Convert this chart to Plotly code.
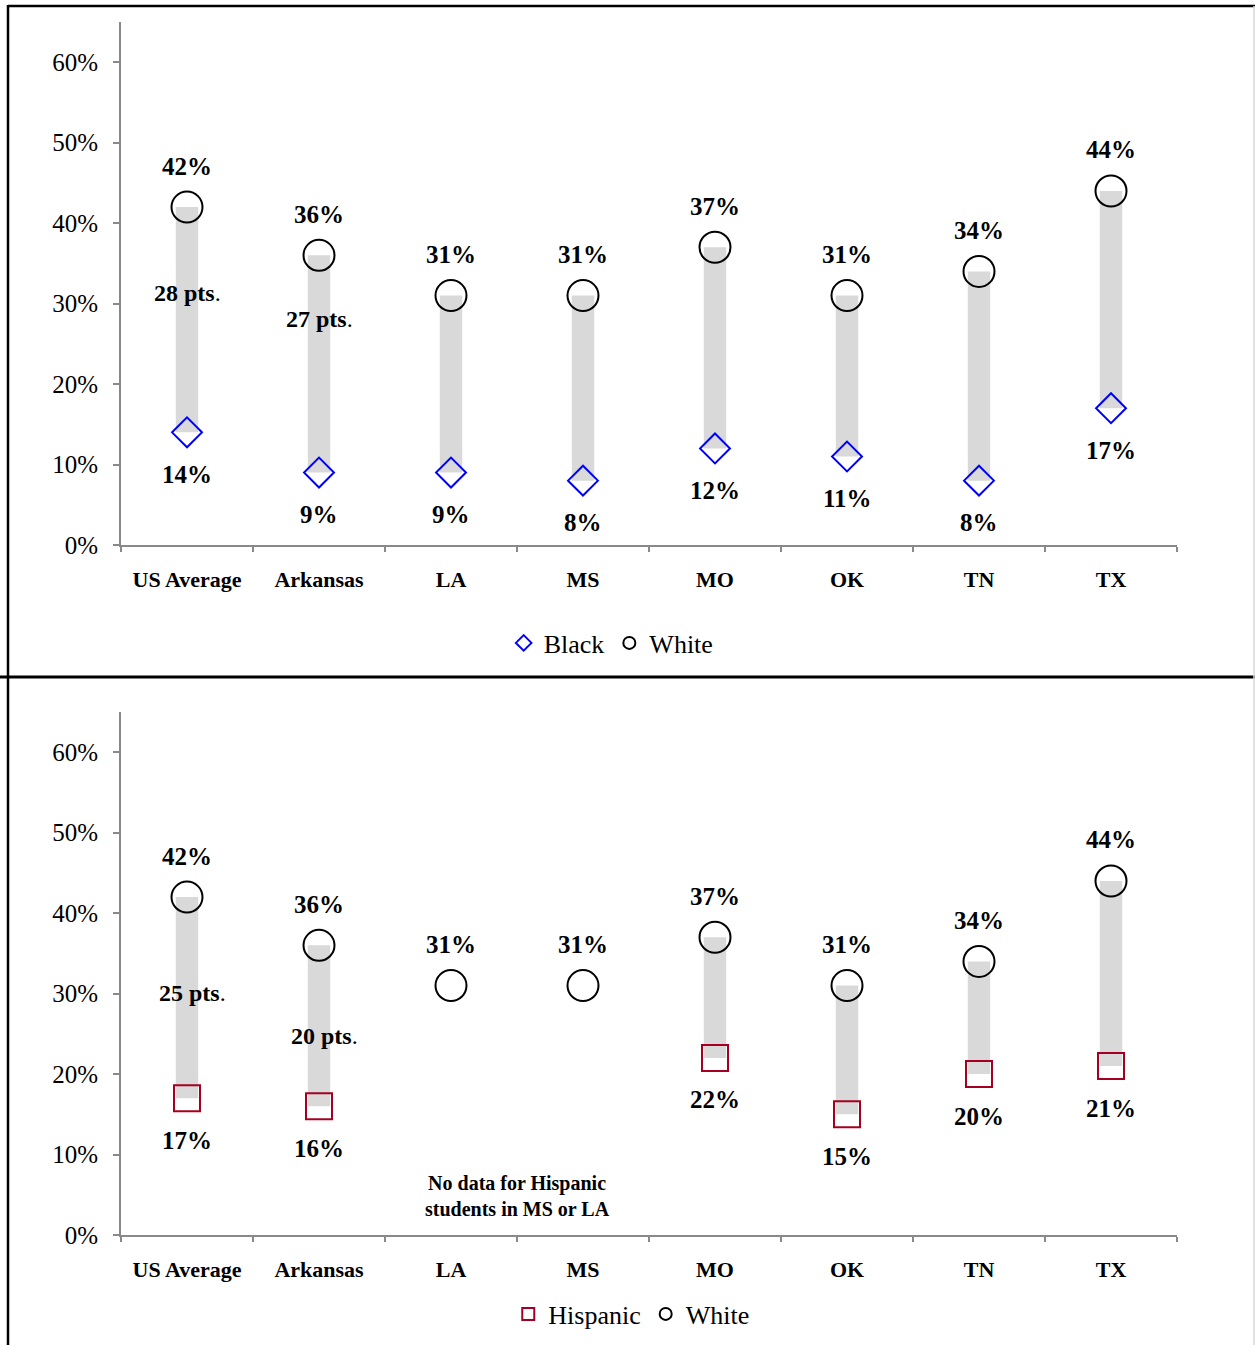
import plotly.graph_objects as go

categories = ["US Average", "Arkansas", "LA", "MS", "MO", "OK", "TN", "TX"]
white = [42, 36, 31, 31, 37, 31, 34, 44]
black = [14, 9, 9, 8, 12, 11, 8, 17]
hispanic = [17, 16, None, None, 22, 15, 20, 21]
gap_top_idx = [0, 1]
gap_bot_idx = [0, 1]
y_ticks = [0, 10, 20, 30, 40, 50, 60]
y_tick_text = ["0%", "10%", "20%", "30%", "40%", "50%", "60%"]
note_text = "No data for Hispanic<br>students in MS or LA"

W, H = 1255, 1345
HF = 1359
FONT = "Liberation Serif"
GREY_BAR = "#d9d9d9"
AXIS = "#898989"

def py(px):
    return 1 - px / H

fig = go.Figure()

xpos = list(range(len(categories)))

def add_panel(lower, lower_name, lower_symbol, lower_color, lower_size, xa, ya, legend):
    lows = list(lower)
    bx = [x for x, l in zip(xpos, lows) if l is not None]
    bb = [l for l in lows if l is not None]
    bt = [white[i] - lows[i] for i in xpos if lows[i] is not None]
    fig.add_trace(go.Bar(x=bx, y=bt, base=bb, width=0.17, marker=dict(color=GREY_BAR, line=dict(width=0)),
                         showlegend=False, hoverinfo="skip", xaxis=xa, yaxis=ya))
    fig.add_trace(go.Scatter(x=bx, y=bb, mode="markers", name=lower_name,
                             marker=dict(symbol=lower_symbol, size=lower_size, color="rgba(0,0,0,0)",
                                         line=dict(color=lower_color, width=2)),
                             xaxis=xa, yaxis=ya, legend=legend))
    fig.add_trace(go.Scatter(x=xpos, y=white, mode="markers", name="White",
                             marker=dict(symbol="circle", size=31, color="rgba(0,0,0,0)",
                                         line=dict(color="black", width=2)),
                             xaxis=xa, yaxis=ya, legend=legend))
    xr = "x" if xa == "x" else "x2"
    yr = "y" if ya == "y" else "y2"
    for i in xpos:
        fig.add_annotation(x=i, y=white[i], xref=xr, yref=yr, text=f"<b>{white[i]}%</b>", showarrow=False,
                           yshift=41, font=dict(family=FONT, size=25, color="black"))
        if lows[i] is not None:
            fig.add_annotation(x=i, y=lows[i], xref=xr, yref=yr, text=f"<b>{lows[i]}%</b>", showarrow=False,
                               yshift=-42, font=dict(family=FONT, size=25, color="black"))

add_panel(black, "Black", "diamond", "#0000ff", 23, "x", "y", "legend")
add_panel(hispanic, "Hispanic", "square", "#a50021", 26, "x2", "y2", "legend2")

# gap labels
for i, ymid in zip(gap_top_idx, [31.3, 28.1]):
    fig.add_annotation(x=i, y=ymid, xref="x", yref="y", text=f"<b>{white[i]-black[i]} pts</b>.", showarrow=False,
                       font=dict(family=FONT, size=24, color="black"))
for i, ymid in zip(gap_bot_idx, [30.1, 24.7]):
    fig.add_annotation(x=i + 0.04, y=ymid, xref="x2", yref="y2", text=f"<b>{white[i]-hispanic[i]} pts</b>.", showarrow=False,
                       font=dict(family=FONT, size=24, color="black"))

fig.add_annotation(x=2.5, y=4.8, xref="x2", yref="y2", text=f"<b>{note_text}</b>", showarrow=False,
                   font=dict(family=FONT, size=20, color="black"), align="center")

xd = [121 / W, 1177 / W]
common_x = dict(type="linear", range=[-0.5, 7.5], tickvals=xpos, ticktext=[f"<b>{c}</b>" for c in categories],
                showline=True, linecolor=AXIS, linewidth=2, ticks="", showgrid=False, zeroline=False,
                tickfont=dict(family=FONT, size=22, color="black"), ticklabelstandoff=14,
                minor=dict(tickvals=[x - 0.5 for x in range(9)], ticks="outside", ticklen=5, tickcolor=AXIS, tickwidth=2),
                fixedrange=True)
common_y = dict(range=[0, 65], tickvals=y_ticks, ticktext=y_tick_text, showline=True, linecolor=AXIS, linewidth=2,
                ticks="outside", ticklen=6, tickcolor=AXIS, tickwidth=2, showgrid=False, zeroline=False,
                tickfont=dict(family=FONT, size=25, color="black"), ticklabelstandoff=10, fixedrange=True)

fig.update_layout(
    width=W, height=HF, autosize=False, margin=dict(l=0, r=0, t=0, b=0),
    paper_bgcolor="white", plot_bgcolor="white", barmode="overlay",
    xaxis=dict(domain=xd, anchor="y", **common_x),
    yaxis=dict(domain=[py(545), py(22)], anchor="x", **common_y),
    xaxis2=dict(domain=xd, anchor="y2", **common_x),
    yaxis2=dict(domain=[py(1235), py(712)], anchor="x2", **common_y),
    legend=dict(orientation="h", x=0.487, y=py(643), xanchor="center", yanchor="middle",
                font=dict(family=FONT, size=26, color="black"), itemsizing="constant",
                bgcolor="rgba(0,0,0,0)", tracegroupgap=0, itemwidth=30),
    legend2=dict(orientation="h", x=0.503, y=py(1314), xanchor="center", yanchor="middle",
                 font=dict(family=FONT, size=26, color="black"), itemsizing="constant",
                 bgcolor="rgba(0,0,0,0)", tracegroupgap=0, itemwidth=30),
    showlegend=True,
)

# panel borders
fig.add_shape(type="line", xref="paper", yref="paper", x0=8 / W, x1=1, y0=py(6), y1=py(6), line=dict(color="black", width=2.5))
fig.add_shape(type="line", xref="paper", yref="paper", x0=0, x1=1, y0=py(677), y1=py(677), line=dict(color="black", width=3))
fig.add_shape(type="line", xref="paper", yref="paper", x0=8 / W, x1=8 / W, y0=py(5), y1=0, line=dict(color="black", width=2.5))
fig.add_shape(type="line", xref="paper", yref="paper", x0=1254 / W, x1=1254 / W, y0=py(6), y1=0, line=dict(color="#d9d9d9", width=1.5))

post = (
    "document.documentElement.style.overflow='hidden';"
    "document.body.style.margin='0';document.body.style.padding='0';document.body.style.overflow='hidden';"
)
fig.write_html("out.html", post_script=post, config={"displayModeBar": False, "responsive": False})
